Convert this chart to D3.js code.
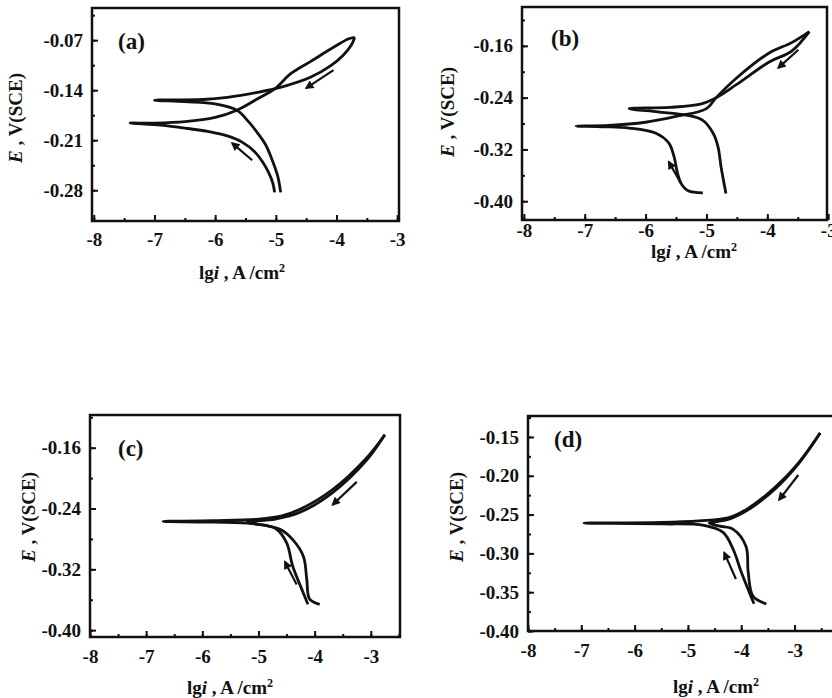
<!DOCTYPE html>
<html lang="en">
<head>
<meta charset="UTF-8">
<title>Polarization curves</title>
<script src="https://cdn.jsdelivr.net/npm/d3@7"></script>
<style>
    body { margin: 0; background: #fff; }
    .axis text {
        font-family: "Liberation Serif", "Times New Roman", serif;
        font-weight: bold;
        font-size: 19px;
        fill: #111;
    }
    .axis line { stroke: #111; stroke-width: 2; }
    .axis path { display: none; }
    .lbl {
        font-family: "Liberation Serif", "Times New Roman", serif;
        font-weight: bold;
        font-size: 19px;
        fill: #111;
    }
    .tag {
        font-family: "Liberation Serif", "Times New Roman", serif;
        font-weight: bold;
        font-size: 23px;
        fill: #111;
    }
</style>
</head>
<body>
<script>
    // [lg i, E] pairs
    var aForward = [[-5.02,-0.283],[-5.05,-0.27],[-5.12,-0.255],[-5.22,-0.24],[-5.35,-0.226],[-5.55,-0.213],
        [-5.8,-0.204],[-6.1,-0.198],[-6.5,-0.193],[-6.9,-0.189],[-7.4,-0.186],[-7.0,-0.186],[-6.5,-0.184],
        [-6.0,-0.178],[-5.64,-0.168],[-5.3,-0.152],[-5.0,-0.137],[-4.77,-0.118],[-4.43,-0.100],[-4.05,-0.080],
        [-3.8,-0.068],[-3.7,-0.066]];
    var aReverse = [[-3.7,-0.066],[-3.75,-0.076],[-3.89,-0.091],[-4.1,-0.106],[-4.43,-0.122],[-4.88,-0.135],
        [-5.3,-0.143],[-5.8,-0.150],[-6.2,-0.153],[-7.0,-0.154],[-6.5,-0.156],[-6.0,-0.159],[-5.64,-0.168],
        [-5.45,-0.184],[-5.3,-0.2],[-5.17,-0.216],[-5.05,-0.24],[-4.97,-0.26],[-4.92,-0.283]];

    var bForward = [[-5.06,-0.387],[-5.3,-0.384],[-5.42,-0.372],[-5.48,-0.355],[-5.53,-0.332],[-5.62,-0.31],
        [-5.83,-0.295],[-6.27,-0.287],[-6.7,-0.285],[-7.14,-0.284],[-6.6,-0.283],[-6.0,-0.278],[-5.5,-0.269],
        [-5.0,-0.257],[-4.84,-0.240],[-4.51,-0.210],[-3.97,-0.171],[-3.6,-0.155],[-3.31,-0.138]];
    var bReverse = [[-3.31,-0.138],[-3.6,-0.168],[-3.97,-0.185],[-4.51,-0.220],[-4.84,-0.240],[-5.1,-0.250],
        [-5.6,-0.255],[-6.27,-0.257],[-5.8,-0.262],[-5.33,-0.267],[-5.06,-0.275],[-4.89,-0.295],[-4.81,-0.316],
        [-4.76,-0.347],[-4.68,-0.388]];

    var cForward = [[-4.12,-0.366],[-4.23,-0.346],[-4.39,-0.316],[-4.5,-0.285],[-4.7,-0.266],[-5.1,-0.260],
        [-5.8,-0.258],[-6.7,-0.257],[-5.8,-0.256],[-5.0,-0.254],[-4.6,-0.250],[-4.26,-0.241],[-3.68,-0.215],
        [-3.07,-0.173],[-2.75,-0.143]];
    var cReverse = [[-2.75,-0.143],[-3.07,-0.176],[-3.68,-0.219],[-4.26,-0.245],[-4.7,-0.254],[-5.2,-0.258],
        [-4.9,-0.262],[-4.6,-0.268],[-4.39,-0.281],[-4.2,-0.303],[-4.14,-0.333],[-4.09,-0.359],[-3.91,-0.366]];

    var dForward = [[-3.76,-0.365],[-3.85,-0.350],[-4.0,-0.324],[-4.15,-0.295],[-4.34,-0.273],[-4.7,-0.264],
        [-5.5,-0.262],[-6.95,-0.261],[-5.5,-0.260],[-4.8,-0.258],[-4.23,-0.254],[-3.85,-0.241],[-3.35,-0.214],
        [-2.92,-0.183],[-2.52,-0.145]];
    var dReverse = [[-2.52,-0.145],[-2.92,-0.184],[-3.35,-0.216],[-3.85,-0.243],[-4.23,-0.256],[-4.6,-0.261],
        [-4.4,-0.265],[-4.15,-0.269],[-3.91,-0.291],[-3.87,-0.324],[-3.78,-0.355],[-3.53,-0.365]];

    // arrows: [from, to]
    var aArrows = [[[-4.05,-0.112],[-4.5,-0.137]], [[-5.39,-0.238],[-5.72,-0.214]]];
    var bArrows = [[[-3.49,-0.166],[-3.82,-0.194]], [[-5.42,-0.372],[-5.62,-0.339]]];
    var cArrows = [[[-3.25,-0.205],[-3.68,-0.235]], [[-4.32,-0.340],[-4.53,-0.310]]];
    var dArrows = [[[-2.93,-0.199],[-3.29,-0.231]], [[-4.10,-0.333],[-4.32,-0.299]]];

    var xTicks = [-8, -7, -6, -5, -4, -3];
    var aYTicks = [-0.07, -0.14, -0.21, -0.28];
    var bYTicks = [-0.16, -0.24, -0.32, -0.40];
    var cYTicks = [-0.16, -0.24, -0.32, -0.40];
    var dYTicks = [-0.15, -0.20, -0.25, -0.30, -0.35, -0.40];

    var panels = [
        { tag: "(a)", fwd: aForward, rev: aReverse, arrows: aArrows, yTicks: aYTicks, yStep: 0.035,
          x0: 92, x1: 399, y0: 8, y1: 221, xd: [-8.03, -2.97], yd: [-0.323, -0.025],
          pad: 12, tx: 26, ty: 41, ylx: 15, yly: 118, xlx: 242, xly: 279 },
        { tag: "(b)", fwd: bForward, rev: bReverse, arrows: bArrows, yTicks: bYTicks, yStep: 0.04,
          x0: 522, x1: 827, y0: 7, y1: 220, xd: [-8.03, -3.02], yd: [-0.429, -0.10],
          pad: 4, tx: 29, ty: 39, ylx: 447, yly: 112, xlx: 694, xly: 258 },
        { tag: "(c)", fwd: cForward, rev: cReverse, arrows: cArrows, yTicks: cYTicks, yStep: 0.04,
          x0: 90, x1: 400, y0: 415, y1: 637, xd: [-8.0, -2.48], yd: [-0.409, -0.117],
          pad: 13, tx: 28, ty: 41, ylx: 28, yly: 517, xlx: 230, xly: 694 },
        { tag: "(d)", fwd: dForward, rev: dReverse, arrows: dArrows, yTicks: dYTicks, yStep: 0.025,
          x0: 528, x1: 842, y0: 416, y1: 631, xd: [-8.0, -2.11], yd: [-0.40, -0.123],
          pad: 13, tx: 26, ty: 31, ylx: 456, yly: 517, xlx: 716, xly: 693 }
    ];

    var svg = d3.select("body")
        .append("svg")
        .attr("width", 832)
        .attr("height", 698);

    svg.append("defs").append("marker")
        .attr("id", "head")
        .attr("viewBox", "0 0 10 10")
        .attr("refX", 8)
        .attr("refY", 5)
        .attr("markerWidth", 6)
        .attr("markerHeight", 4)
        .attr("orient", "auto")
        .append("path")
        .attr("d", "M0,0 L10,5 L0,10 z")
        .attr("fill", "#111");

    panels.forEach(function (p) {
        var x = d3.scaleLinear().domain(p.xd).range([p.x0, p.x1]);
        var y = d3.scaleLinear().domain(p.yd).range([p.y1, p.y0]);

        var g = svg.append("g");

        // minor ticks
        var xMinor = d3.range(-8, p.xd[1], 0.5);
        var yMinor = d3.range(p.yTicks[p.yTicks.length - 1], p.yd[1], p.yStep);

        g.append("g")
            .attr("class", "axis")
            .attr("transform", "translate(0," + p.y1 + ")")
            .call(d3.axisBottom(x).tickValues(xMinor).tickSize(-3).tickFormat(""));
        g.append("g")
            .attr("class", "axis")
            .attr("transform", "translate(" + p.x0 + ",0)")
            .call(d3.axisLeft(y).tickValues(yMinor).tickSize(-3).tickFormat(""));

        g.append("g")
            .attr("class", "axis")
            .attr("transform", "translate(0," + p.y1 + ")")
            .call(d3.axisBottom(x).tickValues(xTicks).tickSizeInner(-6).tickPadding(p.pad)
                .tickFormat(function (d) { return String(d); }));
        g.append("g")
            .attr("class", "axis")
            .attr("transform", "translate(" + p.x0 + ",0)")
            .call(d3.axisLeft(y).tickValues(p.yTicks).tickSizeInner(-6).tickPadding(9)
                .tickFormat(function (d) { return d.toFixed(2); }));

        g.append("rect")
            .attr("x", p.x0)
            .attr("y", p.y0)
            .attr("width", p.x1 - p.x0)
            .attr("height", p.y1 - p.y0)
            .attr("fill", "none")
            .attr("stroke", "#111")
            .attr("stroke-width", 2.5);

        var line = d3.line()
            .x(function (d) { return x(d[0]); })
            .y(function (d) { return y(d[1]); })
            .curve(d3.curveCatmullRom);

        g.selectAll("path.curve")
            .data([p.fwd, p.rev])
            .enter()
            .append("path")
            .attr("class", "curve")
            .attr("d", line)
            .attr("fill", "none")
            .attr("stroke", "#111")
            .attr("stroke-width", 2.8)
            .attr("stroke-linejoin", "round");

        g.selectAll("line.arrow")
            .data(p.arrows)
            .enter()
            .append("line")
            .attr("class", "arrow")
            .attr("x1", function (d) { return x(d[0][0]); })
            .attr("y1", function (d) { return y(d[0][1]); })
            .attr("x2", function (d) { return x(d[1][0]); })
            .attr("y2", function (d) { return y(d[1][1]); })
            .attr("stroke", "#111")
            .attr("stroke-width", 2.2)
            .attr("marker-end", "url(#head)");

        g.append("text")
            .attr("class", "tag")
            .attr("x", p.x0 + p.tx)
            .attr("y", p.y0 + p.ty)
            .text(p.tag);

        var yl = g.append("text")
            .attr("class", "lbl")
            .attr("transform", "translate(" + p.ylx + "," + p.yly + ") rotate(-90)")
            .attr("text-anchor", "middle")
            .attr("dy", "0.35em");
        yl.append("tspan").attr("font-style", "italic").text("E");
        yl.append("tspan").text(" , V(SCE)");

        var xl = g.append("text")
            .attr("class", "lbl")
            .attr("x", p.xlx)
            .attr("y", p.xly)
            .attr("text-anchor", "middle");
        xl.append("tspan").text("lg");
        xl.append("tspan").attr("font-style", "italic").text("i");
        xl.append("tspan").text(" , A /cm");
        xl.append("tspan").attr("font-size", "12px").attr("dy", "-7").text("2");
    });
</script>
</body>
</html>
